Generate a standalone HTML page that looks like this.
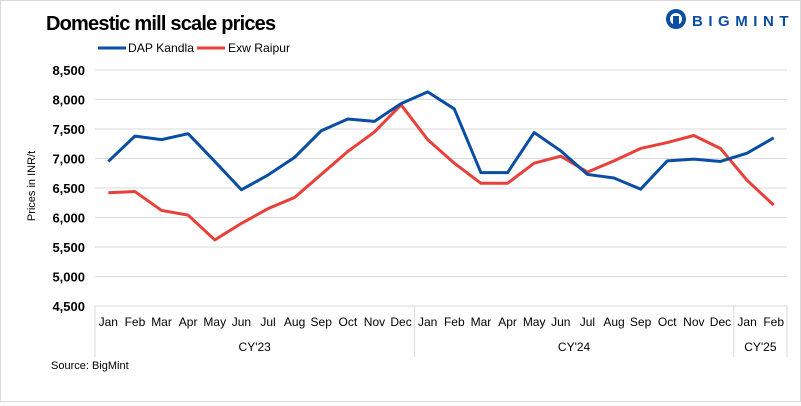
<!DOCTYPE html>
<html><head><meta charset="utf-8"><style>
body{margin:0;background:#fff;}
#wrap{position:relative;width:799px;height:400px;border:1px solid #d9d9d9;background:#fff;font-family:"Liberation Sans",sans-serif;}
svg text{font-family:"Liberation Sans",sans-serif;}
</style></head><body>
<div id="wrap">
<svg id="c" width="799" height="400">
<text x="45" y="29" font-size="20" font-weight="bold" fill="#000" letter-spacing="-0.8">Domestic mill scale prices</text>
<g>
<circle cx="675" cy="18" r="10" fill="#0a4ea3"/>
<circle cx="675" cy="18" r="6" fill="#fff"/>
<rect x="672" y="15" width="6" height="11" fill="#0a4ea3"/>
<text x="691" y="25" font-size="15" font-weight="bold" fill="#0a4ea3" letter-spacing="1.5" textLength="98">BIGMINT</text>
</g>
<g>
<line x1="97" y1="47" x2="125" y2="47" stroke="#0a4ea3" stroke-width="3"/>
<text x="127" y="51" font-size="12" textLength="66" lengthAdjust="spacingAndGlyphs">DAP Kandla</text>
<line x1="196" y1="47" x2="224" y2="47" stroke="#e8403a" stroke-width="3"/>
<text x="227" y="51" font-size="12" textLength="62" lengthAdjust="spacingAndGlyphs">Exw Raipur</text>
</g>
<text transform="translate(34,185) rotate(-90)" font-size="11" text-anchor="middle">Prices in INR/t</text>
<text x="50" y="368" font-size="11">Source: BigMint</text>
<g id="grid"></g><g id="marks"></g>
</svg>
</div>
<script>
const months=["Jan","Feb","Mar","Apr","May","Jun","Jul","Aug","Sep","Oct","Nov","Dec","Jan","Feb","Mar","Apr","May","Jun","Jul","Aug","Sep","Oct","Nov","Dec","Jan","Feb"];
const years=[["CY'23",0,12],["CY'24",12,24],["CY'25",24,26]];
const yTicks=[4500,5000,5500,6000,6500,7000,7500,8000,8500];
const dapKandla=[6950,7380,7320,7420,6950,6470,6720,7020,7470,7670,7630,7930,8130,7840,6760,6760,7440,7130,6730,6670,6480,6960,6990,6950,7090,7350];
const exwRaipur=[6420,6440,6120,6040,5620,5900,6150,6340,6730,7120,7450,7910,7320,6920,6580,6580,6920,7040,6770,6960,7170,7270,7390,7170,6630,6210];
const NS="http://www.w3.org/2000/svg";
const x0=94,x1=786,yTop=69,yBot=305,vMin=4500,vMax=8500;
const bw=(x1-x0)/months.length;
const xPos=i=>x0+bw*(i+0.5);
const yPos=v=>yBot-(v-vMin)/(vMax-vMin)*(yBot-yTop);
function mk(tag,at,parent){const e=document.createElementNS(NS,tag);for(const k in at)e.setAttribute(k,at[k]);parent.appendChild(e);return e;}
const g=document.getElementById('grid'),m=document.getElementById('marks');
yTicks.forEach(v=>{
 const l=mk('line',{x1:x0,x2:x1,y1:yPos(v),y2:yPos(v),stroke:'#d9d9d9','stroke-width':1},g);
 
 
 const t=mk('text',{x:84,y:yPos(v)+5,'font-size':13,'font-weight':'bold','text-anchor':'end'},g);
 t.textContent=v.toLocaleString('en-US');
 
 
});
months.forEach((mo,i)=>{
 const t=mk('text',{x:xPos(i),y:325,'font-size':12,'text-anchor':'middle'},g);
 t.textContent=mo;
 
 
});
const divs=[0,12,24,26];
divs.forEach(d=>{
 const l=mk('line',{x1:x0+bw*d,x2:x0+bw*d,y1:yBot,y2:356,stroke:'#d9d9d9','stroke-width':1},g);
 
 
});
years.forEach(y=>{
 const t=mk('text',{x:x0+bw*(y[1]+y[2])/2,y:350,'font-size':12,'text-anchor':'middle'},g);
 t.textContent=y[0];
 
 
});
function line(data,color,name){
 const p=mk('polyline',{points:data.map((v,i)=>xPos(i)+','+yPos(v)).join(' '),fill:'none',stroke:color,'stroke-width':3,'stroke-linejoin':'round'},m);
 
 
}
line(exwRaipur,'#e8403a','line-exw-raipur');
line(dapKandla,'#0a4ea3','line-dap-kandla');
</script>
</body></html>
